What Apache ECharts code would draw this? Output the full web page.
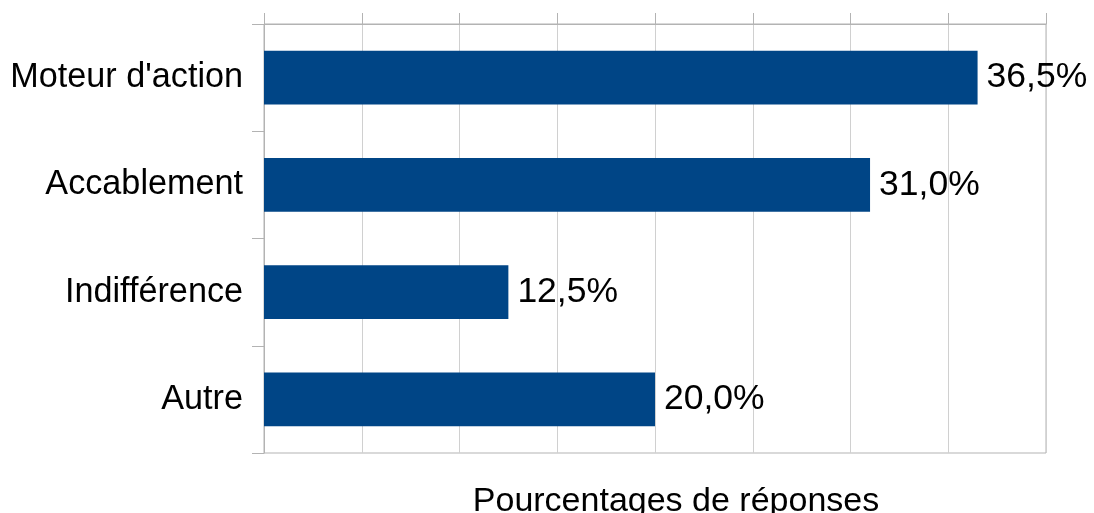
<!DOCTYPE html>
<html>
<head>
<meta charset="utf-8">
<script src="https://cdn.jsdelivr.net/npm/echarts@6/dist/echarts.min.js"></script>
<style>
	html, body { margin: 0; padding: 0; background: #fff; }
	#MyChart { width: 1094px; height: 513px; }
</style>
</head>
<body>
<div id="MyChart"></div>
<script>
var categories = ['Moteur d\'action', 'Accablement', 'Indifférence', 'Autre'];
var values = [36.5, 31.0, 12.5, 20.0];
var xTitle = 'Pourcentages de réponses';

var font = '"Liberation Sans", Arial, sans-serif';

var option = {
	animation: false,
	textStyle: { fontFamily: font },
	grid: {
		left: 264,
		right: 48,
		top: 24,
		bottom: 60,
		show: true,
		borderColor: '#b3b3b3',
		borderWidth: 1,
		backgroundColor: 'transparent'
	},
	graphic: [{
		type: 'text',
		x: 676,
		y: 502,
		style: {
			text: xTitle,
			font: '34px ' + font,
			fill: '#000',
			align: 'center',
			verticalAlign: 'middle'
		}
	}],
	xAxis: {
		type: 'value',
		position: 'top',
		min: 0,
		max: 40,
		interval: 5,
		axisLine: { show: true, lineStyle: { color: '#b3b3b3' } },
		axisTick: { show: true, length: 11, lineStyle: { color: '#b3b3b3' } },
		axisLabel: { show: false },
		splitLine: { show: true, lineStyle: { color: '#d0d0d0' } }
	},
	yAxis: {
		type: 'category',
		inverse: true,
		data: categories,
		axisLine: { show: true, lineStyle: { color: '#b3b3b3' } },
		axisTick: { show: true, length: 12, lineStyle: { color: '#b3b3b3' } },
		axisLabel: { color: '#000', fontSize: 34.2, margin: 21, fontFamily: font }
	},
	series: [{
		type: 'bar',
		data: values,
		barWidth: '50%',
		itemStyle: { color: '#004586' },
		label: {
			show: true,
			position: 'right',
			distance: 9,
			color: '#000',
			fontSize: 35.5,
			fontFamily: font,
			formatter: function(p) {
				return p.value.toFixed(1).replace('.', ',') + '%';
			}
		}
	}]
};

var myChart = echarts.init(document.getElementById('MyChart'));
myChart.setOption(option);
</script>
</body>
</html>
